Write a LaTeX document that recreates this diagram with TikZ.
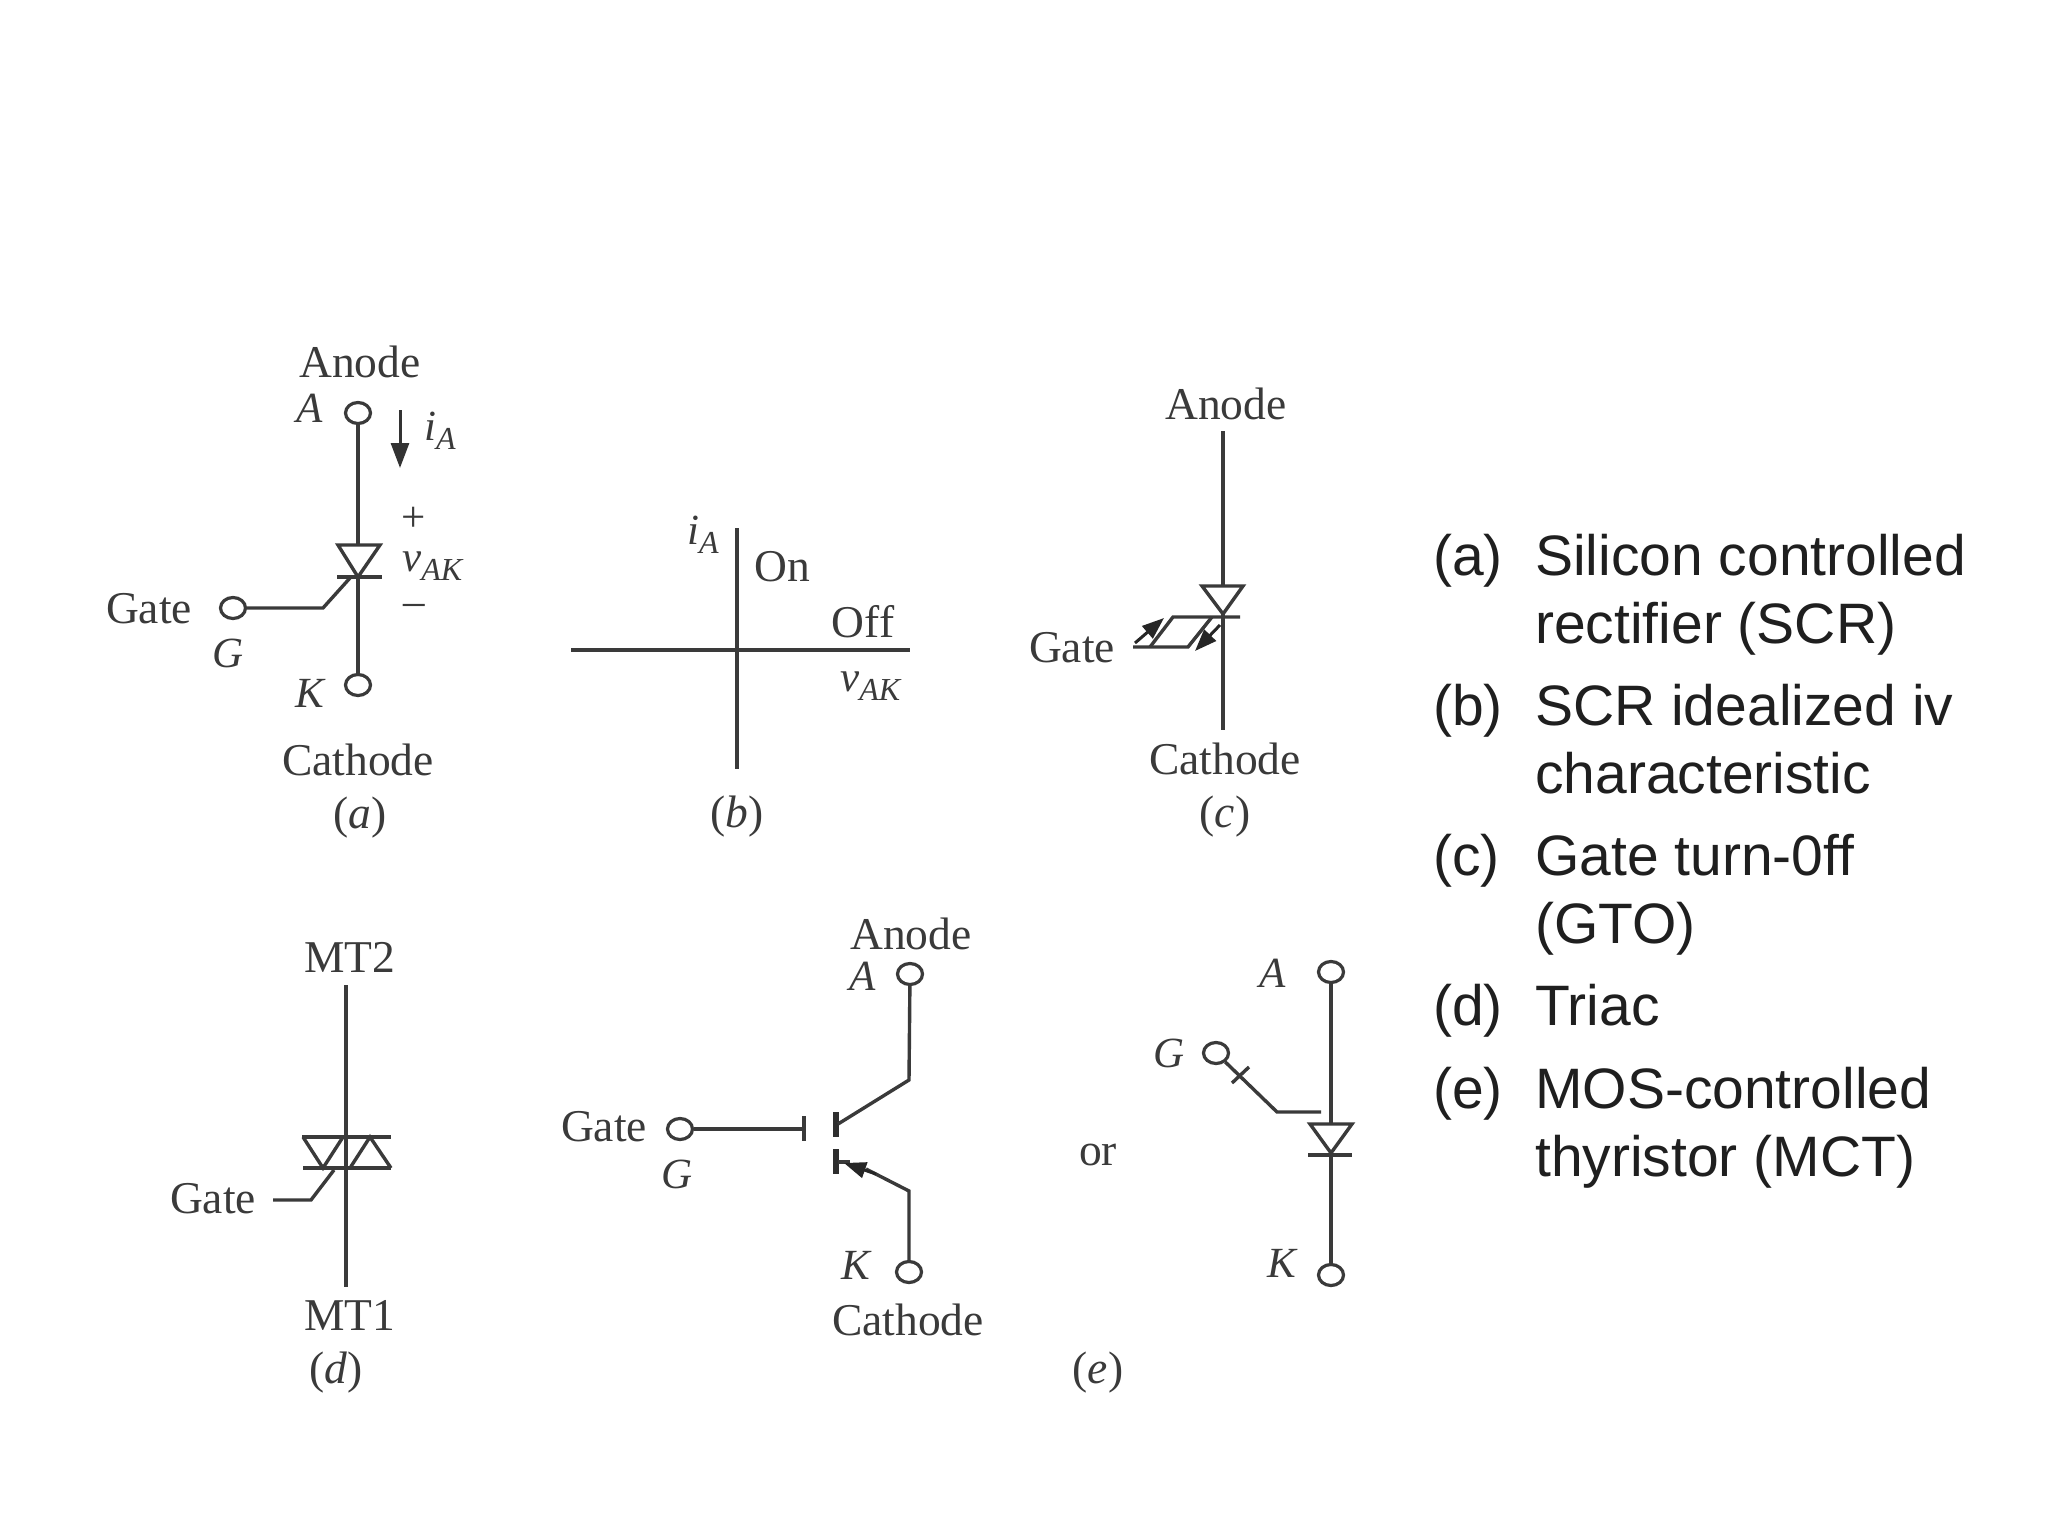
\documentclass[tikz,border=0pt]{standalone}
\usepackage{fontspec}
\setmainfont{Liberation Serif}
\newfontfamily\listfont{Liberation Sans}
\usetikzlibrary{arrows.meta,shapes.geometric}
\definecolor{ink}{HTML}{3A3A3A}
\definecolor{listink}{HTML}{1F1F1F}
\newcommand{\subbed}[2]{\textit{#1}\raisebox{-0.22em}{\fontsize{32}{32}\selectfont\textit{#2}}}
\newcommand{\capt}[1]{(\textit{#1})}
\tikzset{
 wire/.style={draw=ink,line width=3.4pt,line join=miter},
 thickwire/.style={draw=ink,line width=4.4pt},
 heavybar/.style={draw=ink!80!black,line width=6.5pt},
 term/.style={ellipse,draw=ink,line width=3.2pt,minimum width=25pt,minimum height=21pt,inner sep=0pt,fill=white},
 lbl/.style={text=ink,font=\fontsize{45.5}{45.5}\selectfont,inner sep=0pt},
 ital/.style={text=ink,font=\fontsize{43}{43}\selectfont\itshape,inner sep=0pt},
 sym/.style={text=ink,font=\fontsize{43}{43}\selectfont,inner sep=0pt},
 listitem/.style={text=listink,font=\listfont\fontsize{57}{57}\selectfont,inner sep=0pt,anchor=base west},
 head/.style={-{Stealth[length=25pt,width=18pt,inset=0pt]},draw=black!80,fill=black!80,line width=3pt},
 smallhead/.style={-{Stealth[length=22pt,width=16pt,inset=0pt]},draw=black!85,fill=black!85,line width=3pt},
}
\begin{document}
\begin{tikzpicture}[x=1pt,y=-1pt]
\path[use as bounding box,fill=white] (0,0) rectangle (2048,1536);

% (a) SCR
\node[term] (aA) at (358,413) {};
\node[term] (aK) at (358,685) {};
\node[term] (aG) at (233,608) {};
\coordinate (aApex) at (358,577);
\coordinate (aBend) at (323,608);
\coordinate (aTip) at (350,578);
\coordinate (aArrS) at (400,410);
\coordinate (aArrE) at (400,468);
\draw[wire] (aA) -- (aK);
\draw[wire,fill=white] (338,545) -- (380,545) -- (aApex) -- cycle;
\draw[wire] (337,577) -- (382,577);
\draw[wire] (aG) -- (aBend) -- (aTip);
\draw[head] (aArrS) -- (aArrE);
\node[lbl] (aAnode) at (360,362) {Anode};
\node[ital] (aAl) at (310,408) {A};
\node[sym] (aia) at (440,431) {\subbed{i}{A}};
\node[sym] (aplus) at (414,519) {+};
\node[sym] (avak) at (433,566) {\subbed{v}{AK}};
\node[sym] (aminus) at (414,610) {–};
\node[lbl] (aGate) at (149,609) {Gate};
\node[ital] (aGl) at (228,653) {G};
\node[ital] (aKl) at (310,693) {K};
\node[lbl] (aCath) at (358,760) {Cathode};
\node[lbl] (acap) at (360,818) {\capt{a}};

% (b) characteristic
\coordinate (bTop) at (737,528);
\coordinate (bBot) at (737,769);
\coordinate (bO) at (737,650);
\coordinate (bL) at (571,650);
\coordinate (bR) at (910,650);
\draw[wire] (bO) -- (bBot);
\draw[thickwire] (bTop) -- (bO);
\draw[thickwire] (bL) -- (bR);
\node[sym] (bia) at (703,535) {\subbed{i}{A}};
\node[lbl] (bOn) at (782,567) {On};
\node[lbl] (bOff) at (863,622) {Off};
\node[sym] (bvak) at (871,686) {\subbed{v}{AK}};
\node[lbl] (bcap) at (737,817) {\capt{b}};

% (c) GTO
\coordinate (cTop) at (1223,431);
\coordinate (cBot) at (1223,730);
\draw[wire] (cTop) -- (cBot);
\draw[wire,fill=white] (1202,586) -- (1243,586) -- (1223,614) -- cycle;
\draw[wire] (1240,617) -- (1173,617) -- (1150,647);
\draw[wire] (1133,647) -- (1188,647) -- (1212,617);
\draw[smallhead] (1135,643) -- (1164,618);
\draw[smallhead] (1220,625) -- (1195,651);
\node[lbl] (cAnode) at (1226,404) {Anode};
\node[lbl] (cGate) at (1072,648) {Gate};
\node[lbl] (cCath) at (1225,759) {Cathode};
\node[lbl] (ccap) at (1225,817) {\capt{c}};

% (d) Triac
\coordinate (dTop) at (346,985);
\coordinate (dBot) at (346,1287);
\draw[wire] (dTop) -- (dBot);
\draw[wire] (302,1137) -- (391,1137);
\draw[wire] (303,1168) -- (391,1168);
\draw[wire] (303,1137) -- (323,1168) -- (343,1137);
\draw[wire] (350,1168) -- (370,1137) -- (391,1168);
\draw[wire] (273,1200) -- (311,1200) -- (334,1170);
\node[lbl] (dMTb) at (350,957) {MT2};
\node[lbl] (dGate) at (213,1199) {Gate};
\node[lbl] (dMTa) at (350,1315) {MT1};
\node[lbl] (dcap) at (336,1373) {\capt{d}};

% (e) MCT, transistor form
\node[term] (eG) at (680,1129) {};
\node[term] (eA) at (910,974) {};
\node[term] (eK) at (909,1272) {};
\coordinate (eGate) at (804,1129);
\coordinate (eU) at (909,1080);
\coordinate (eC) at (838,1124);
\coordinate (eD) at (909,1191);
\draw[wire] (eG) -- (eGate);
\draw[wire] (804,1116) -- (804,1141);
\draw[heavybar] (836,1112) -- (836,1137);
\draw[heavybar] (836,1149) -- (836,1174);
\draw[wire] (eA) -- (eU) -- (eC);
\draw[wire] (eK) -- (eD) -- (866,1169);
\draw[wire] (838,1162) -- (850,1162);
\draw[smallhead] (876,1174) -- (844,1163);
\node[lbl] (eAnode) at (911,934) {Anode};
\node[ital] (eAl) at (863,976) {A};
\node[lbl] (eGatel) at (604,1127) {Gate};
\node[ital] (eGl) at (677,1174) {G};
\node[ital] (eKl) at (856,1265) {K};
\node[lbl] (eCath) at (908,1320) {Cathode};
\node[lbl] (eor) at (1098,1155) {or};
\node[lbl] (ecap) at (1098,1373) {\capt{e}};

% (e) MCT, diode form
\node[term] (fA) at (1331,972) {};
\node[term] (fK) at (1331,1275) {};
\node[term] (fG) at (1216,1053) {};
\coordinate (fBend) at (1277,1112);
\coordinate (fEnd) at (1321,1112);
\coordinate (fT1) at (1232,1083);
\coordinate (fT2) at (1249,1067);
\draw[wire] (fA) -- (fK);
\draw[wire,fill=white] (1310,1124) -- (1352,1124) -- (1331,1153) -- cycle;
\draw[wire] (1308,1155) -- (1352,1155);
\draw[wire] (fG) -- (fBend) -- (fEnd);
\draw[wire] (fT1) -- (fT2);
\node[ital] (fAl) at (1273,973) {A};
\node[ital] (fGl) at (1169,1053) {G};
\node[ital] (fKl) at (1282,1263) {K};

% list
\node[listitem] (la) at (1433,575) {(a)};
\node[listitem] (lat) at (1535,575) {Silicon controlled};
\node[listitem] (lat2) at (1535,643) {rectifier (SCR)};
\node[listitem] (lb) at (1433,725) {(b)};
\node[listitem] (lbt) at (1535,725) {SCR idealized iv};
\node[listitem] (lbt2) at (1535,793) {characteristic};
\node[listitem] (lc) at (1433,875) {(c)};
\node[listitem] (lct) at (1535,875) {Gate turn-0ff};
\node[listitem] (lct2) at (1535,943) {(GTO)};
\node[listitem] (ld) at (1433,1025) {(d)};
\node[listitem] (ldt) at (1535,1025) {Triac};
\node[listitem] (le) at (1433,1108) {(e)};
\node[listitem] (let) at (1535,1108) {MOS-controlled};
\node[listitem] (let2) at (1535,1176) {thyristor (MCT)};
\end{tikzpicture}
\end{document}
